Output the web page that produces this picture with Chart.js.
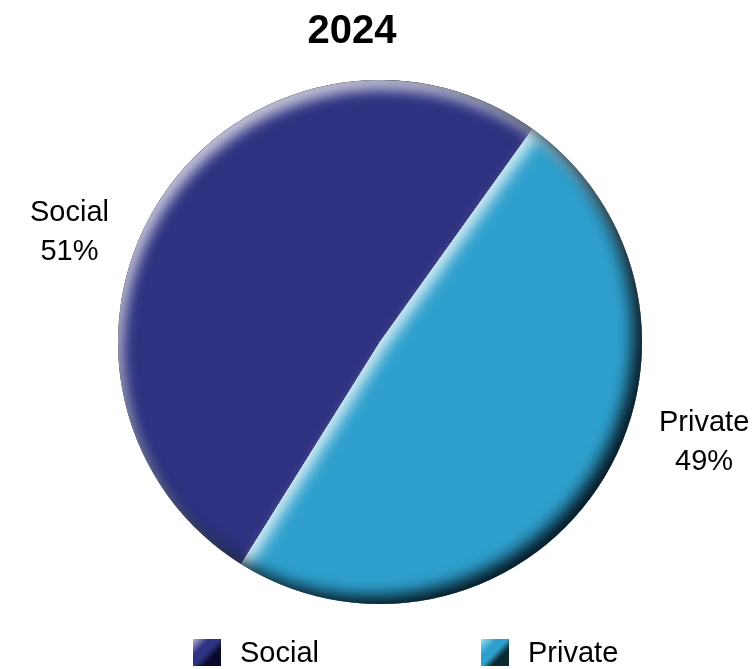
<!DOCTYPE html>
<html>
<head>
<meta charset="utf-8">
<script src="https://cdn.jsdelivr.net/npm/chart.js@4.4.1/dist/chart.umd.min.js"></script>
<style>
  html, body { margin: 0; padding: 0; background: #ffffff; }
  #wrap { width: 754px; height: 669px; position: relative; }
</style>
</head>
<body>
<div id="wrap"><canvas id="c" width="754" height="669"></canvas></div>
<script>
// ---- data ----
const chartTitle = '2024';
const categories = ['Social', 'Private'];
const shares = [51, 49];
const sliceColors = ['#2E3280', '#2FA0CD'];
const legendLight = ['#B4B4D6', '#A8DDF0'];
const legendDark = ['#080A2C', '#0A2A33'];

const FONT = '"Liberation Sans", Arial, sans-serif';

function slicePath(ctx, a) {
  ctx.moveTo(a.x, a.y);
  ctx.arc(a.x, a.y, a.outerRadius, a.startAngle, a.endAngle);
  ctx.closePath();
}

function makeLegendSwatch(i) {
  const c = document.createElement('canvas');
  c.width = 28; c.height = 27;
  const g = c.getContext('2d');
  const grad = g.createLinearGradient(0, 0, 28, 27);
  grad.addColorStop(0, legendLight[i]);
  grad.addColorStop(0.3, sliceColors[i]);
  grad.addColorStop(0.5, sliceColors[i]);
  grad.addColorStop(0.68, legendDark[i]);
  grad.addColorStop(1, legendDark[i]);
  g.fillStyle = grad;
  g.fillRect(0, 0, 28, 27);
  return c;
}

const bevelPlugin = {
  id: 'bevel',
  afterDatasetsDraw(chart) {
    const ctx = chart.ctx;
    const meta = chart.getDatasetMeta(0);
    const W = chart.width, H = chart.height;
    // highlight per slice (light from upper left)
    meta.data.forEach(a => {
      ctx.save();
      ctx.beginPath(); slicePath(ctx, a); ctx.clip();
      ctx.beginPath();
      ctx.rect(-W, -H, 3 * W, 3 * H);
      slicePath(ctx, a);
      ctx.shadowColor = 'rgba(255,255,255,0.78)';
      ctx.shadowBlur = 14;
      ctx.shadowOffsetX = 4;
      ctx.shadowOffsetY = 9;
      ctx.fillStyle = '#ffffff';
      ctx.fill('evenodd');
      ctx.restore();
    });
    // dark shadow on the whole disc (lower right)
    const a0 = meta.data[0];
    ctx.save();
    ctx.beginPath(); ctx.arc(a0.x, a0.y, a0.outerRadius, 0, Math.PI * 2); ctx.clip();
    ctx.beginPath();
    ctx.rect(-W, -H, 3 * W, 3 * H);
    ctx.moveTo(a0.x + a0.outerRadius, a0.y);
    ctx.arc(a0.x, a0.y, a0.outerRadius, 0, Math.PI * 2);
    ctx.shadowColor = 'rgba(2,18,28,0.97)';
    ctx.shadowBlur = 16;
    ctx.shadowOffsetX = -9;
    ctx.shadowOffsetY = -8;
    ctx.fillStyle = '#000000';
    ctx.fill('evenodd');
    ctx.restore();
  },
  afterDraw(chart) {
    const ctx = chart.ctx;
    const meta = chart.getDatasetMeta(0);
    const a0 = meta.data[0];
    const cx = a0.x;
    ctx.save();
    // title
    ctx.fillStyle = '#000000';
    ctx.textAlign = 'center';
    ctx.textBaseline = 'alphabetic';
    ctx.font = 'bold 40px ' + FONT;
    ctx.fillText(chartTitle, cx - 28, 43);
    // outside labels
    ctx.font = '29px ' + FONT;
    meta.data.forEach((a, i) => {
      const mid = (a.startAngle + a.endAngle) / 2;
      const right = Math.cos(mid) > 0;
      const lines = [categories[i], shares[i] + '%'];
      const w = Math.max(...lines.map(l => ctx.measureText(l).width));
      const bx = right ? a.x + a.outerRadius + 17 + w / 2 : a.x - a.outerRadius - 9 - w / 2;
      const by = a.y + Math.sin(mid) * a.outerRadius * 0.72 - 7;
      ctx.fillText(lines[0], bx, by - 9);
      ctx.fillText(lines[1], bx, by + 30);
    });
    // legend
    ctx.textAlign = 'left';
    ctx.font = '29px ' + FONT;
    const start = cx - 187, col = 288;
    categories.forEach((name, i) => {
      const x = start + i * col;
      ctx.drawImage(swatches[i], x, chart.height - 30);
      ctx.fillText(name, x + 47, chart.height - 7);
    });
    ctx.restore();
  }
};

const swatches = categories.map((_, i) => makeLegendSwatch(i));

new Chart(document.getElementById('c'), {
  type: 'pie',
  data: {
    labels: categories,
    datasets: [{
      data: shares,
      backgroundColor: sliceColors,
      borderWidth: 0,
      hoverOffset: 0
    }]
  },
  options: {
    responsive: false,
    animation: false,
    rotation: -148,
    layout: { padding: { top: 80, bottom: 65, left: 118, right: 112 } },
    plugins: {
      legend: { display: false },
      title: { display: false },
      tooltip: { enabled: false }
    }
  },
  plugins: [bevelPlugin]
});
</script>
</body>
</html>
